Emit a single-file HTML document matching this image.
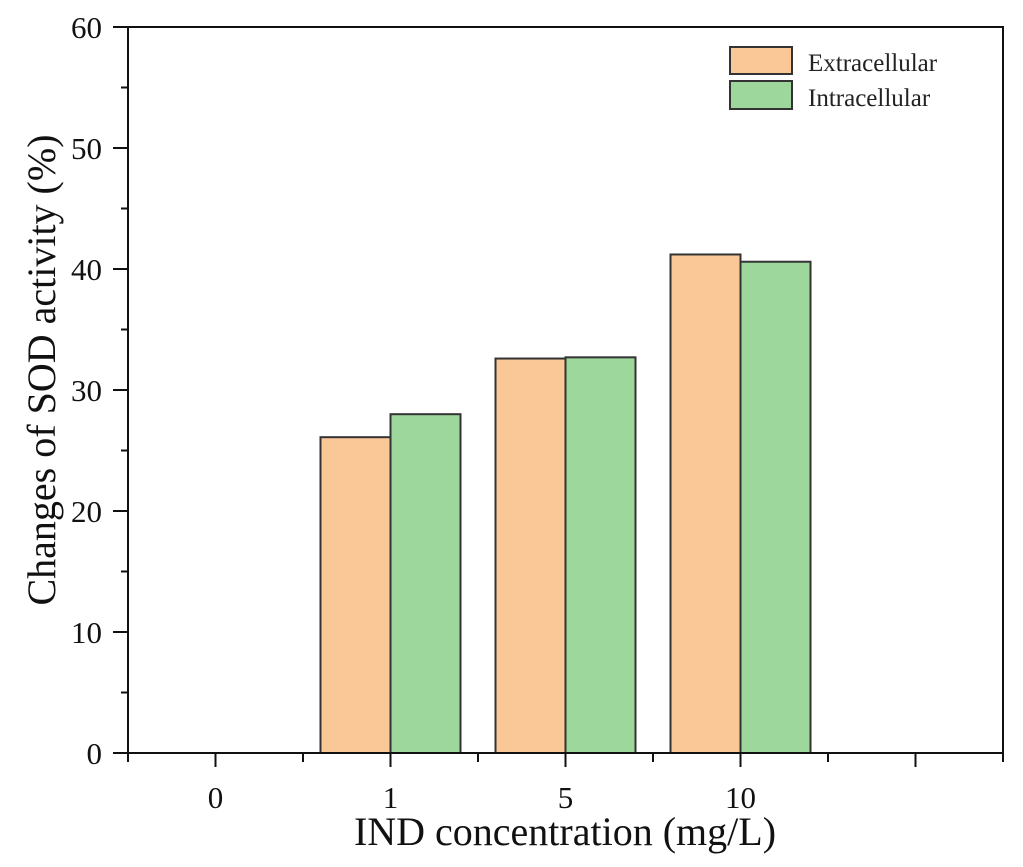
<!DOCTYPE html>
<html><head><meta charset="utf-8"><style>
html,body{margin:0;padding:0;background:#fff;}
svg{display:block;font-family:"Liberation Serif",serif;}
</style></head><body>
<svg id="chart" width="1023" height="867" viewBox="0 0 1023 867" xmlns="http://www.w3.org/2000/svg">
<g id="bars"></g>
<g id="axes"></g>
<g>
  <rect x="730" y="47" width="62" height="27" fill="#FAC797" stroke="#333" stroke-width="2"/>
  <text x="808" y="71" font-size="25" fill="#222">Extracellular</text>
  <rect x="730" y="81" width="62" height="28" fill="#9DD79B" stroke="#333" stroke-width="2"/>
  <text x="808" y="106" font-size="25" fill="#222">Intracellular</text>
</g>
<text x="565" y="845" font-size="40" text-anchor="middle" fill="#111">IND concentration (mg/L)</text>
<text transform="translate(55,370) rotate(-90)" font-size="40" text-anchor="middle" fill="#111">Changes of SOD activity (%)</text>
</svg>
<script>
const categories = ["0", "1", "5", "10", ""];
const extracellular = [0, 26.1, 32.6, 41.2, null];
const intracellular = [0, 28.0, 32.7, 40.6, null];
const yTicks = [0, 10, 20, 30, 40, 50, 60];

const NS = "http://www.w3.org/2000/svg";
const L = 128, R = 1003, T = 27, B = 753;
const x = i => L + (i + 0.5) * (R - L) / categories.length;
const unit = (R - L) / categories.length;
const y = v => B - v / 60 * (B - T);
function mk(tag, attrs, parent) {
  const e = document.createElementNS(NS, tag);
  for (const k in attrs) e.setAttribute(k, attrs[k]);
  parent.appendChild(e); return e;
}
const bars = document.getElementById("bars");
const axes = document.getElementById("axes");
const bw = unit * 0.4;
categories.forEach((c, i) => {
  [[extracellular, "#FAC797", -1, "extracellular"], [intracellular, "#9DD79B", 0, "intracellular"]].forEach(([arr, col, off, nm]) => {
    const v = arr[i];
    if (!v) return;
    const r = mk("rect", {x: x(i) + off * bw, y: y(v), width: bw, height: y(0) - y(v), fill: col, stroke: "#333", "stroke-width": 2}, bars);
    
    
  });
});
const fr = mk("rect", {x: L, y: T, width: R - L, height: B - T, fill: "none", stroke: "#111", "stroke-width": 2}, axes);


yTicks.forEach(v => {
  mk("line", {x1: L - 15, x2: L, y1: y(v), y2: y(v), stroke: "#111", "stroke-width": 2}, axes);
  if (v < 60) mk("line", {x1: L - 7, x2: L, y1: y(v + 5), y2: y(v + 5), stroke: "#111", "stroke-width": 2}, axes);
  const t = mk("text", {x: L - 26, y: y(v) + 11, "font-size": 31, "text-anchor": "end", fill: "#111"}, axes);
  t.textContent = v;
  
  
});
categories.forEach((c, i) => {
  mk("line", {x1: x(i), x2: x(i), y1: B, y2: B + 14, stroke: "#111", "stroke-width": 2}, axes);
  mk("line", {x1: x(i) - unit / 2, x2: x(i) - unit / 2, y1: B, y2: B + 9, stroke: "#111", "stroke-width": 2}, axes);
  const t = mk("text", {x: x(i), y: B + 55, "font-size": 31, "text-anchor": "middle", fill: "#111"}, axes);
  t.textContent = c;
  
  
});
mk("line", {x1: R, x2: R, y1: B, y2: B + 9, stroke: "#111", "stroke-width": 2}, axes);
</script>
</body></html>
